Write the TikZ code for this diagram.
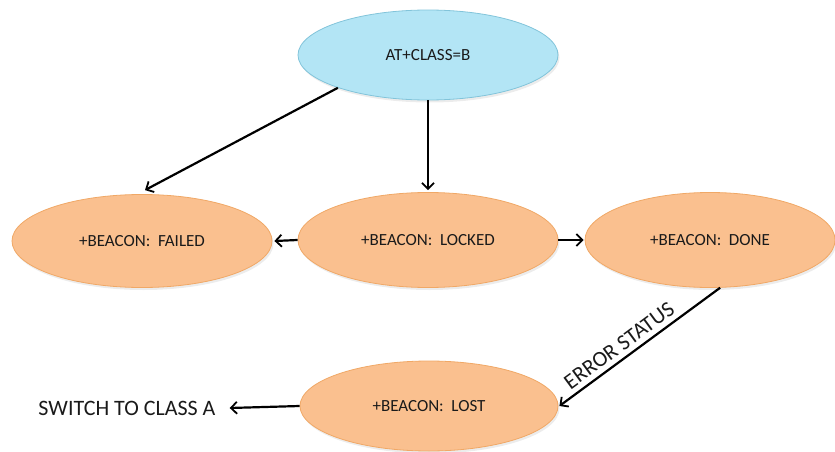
\documentclass[tikz,border=0pt]{standalone}
\usepackage{fontspec}
\setmainfont{Carlito}
\usetikzlibrary{shapes.geometric,arrows.meta,shadows}
\definecolor{orfill}{HTML}{FAC08F}
\definecolor{ordraw}{HTML}{F0A866}
\definecolor{blfill}{HTML}{B3E5F5}
\definecolor{bldraw}{HTML}{82C4DA}
\definecolor{txt}{HTML}{1A1A1A}
\tikzset{
  state/.style={ellipse, fill=orfill, draw=ordraw, line width=0.8pt, text=txt,
    inner sep=0pt, font=\fontsize{17}{20}\selectfont,
    drop shadow={opacity=0.15, shadow xshift=1.5pt, shadow yshift=-2.5pt}},
  startstate/.style={state, fill=blfill, draw=bldraw},
  link/.style={line width=2.2pt, black, -{Straight Barb[length=6pt,width=12pt,line width=1.8pt]}},
  plain/.style={font=\fontsize{22}{26}\selectfont, text=txt, inner sep=0pt}
}
\begin{document}
\begin{tikzpicture}[x=1pt,y=1pt]
\useasboundingbox (0,0) rectangle (835,451);
\node[startstate, minimum width=260pt, minimum height=90pt] (top) at (428,396) {AT+CLASS=B};
\node[state, minimum width=260pt, minimum height=93pt] (failed) at (142,210) {+BEACON:\ \ FAILED};
\node[state, minimum width=260pt, minimum height=95pt] (locked) at (428,211) {+BEACON:\ \ LOCKED};
\node[state, minimum width=250pt, minimum height=95pt] (done) at (710,211) {+BEACON:\ \ DONE};
\node[state, minimum width=258pt, minimum height=90pt] (lost) at (429,45) {+BEACON:\ \ LOST};
\node[plain] (switch) at (127,43) {SWITCH TO CLASS A};
\draw[link] (top.200) -- ([xshift=3pt,yshift=4pt]failed.north);
\draw[link] (top.south) -- ([yshift=2pt]locked.north);
\draw[link] (locked.west) -- ([xshift=2pt]failed.east);
\draw[link] (locked.east) -- ([xshift=-1pt]done.west);
\draw[link] (done.-78) -- node[sloped, above=5pt, plain, pos=0.58] (err) {ERROR STATUS} ([xshift=1pt]lost.east);
\draw[link] (lost.west) -- ([xshift=14pt]switch.east);
\end{tikzpicture}
\end{document}
